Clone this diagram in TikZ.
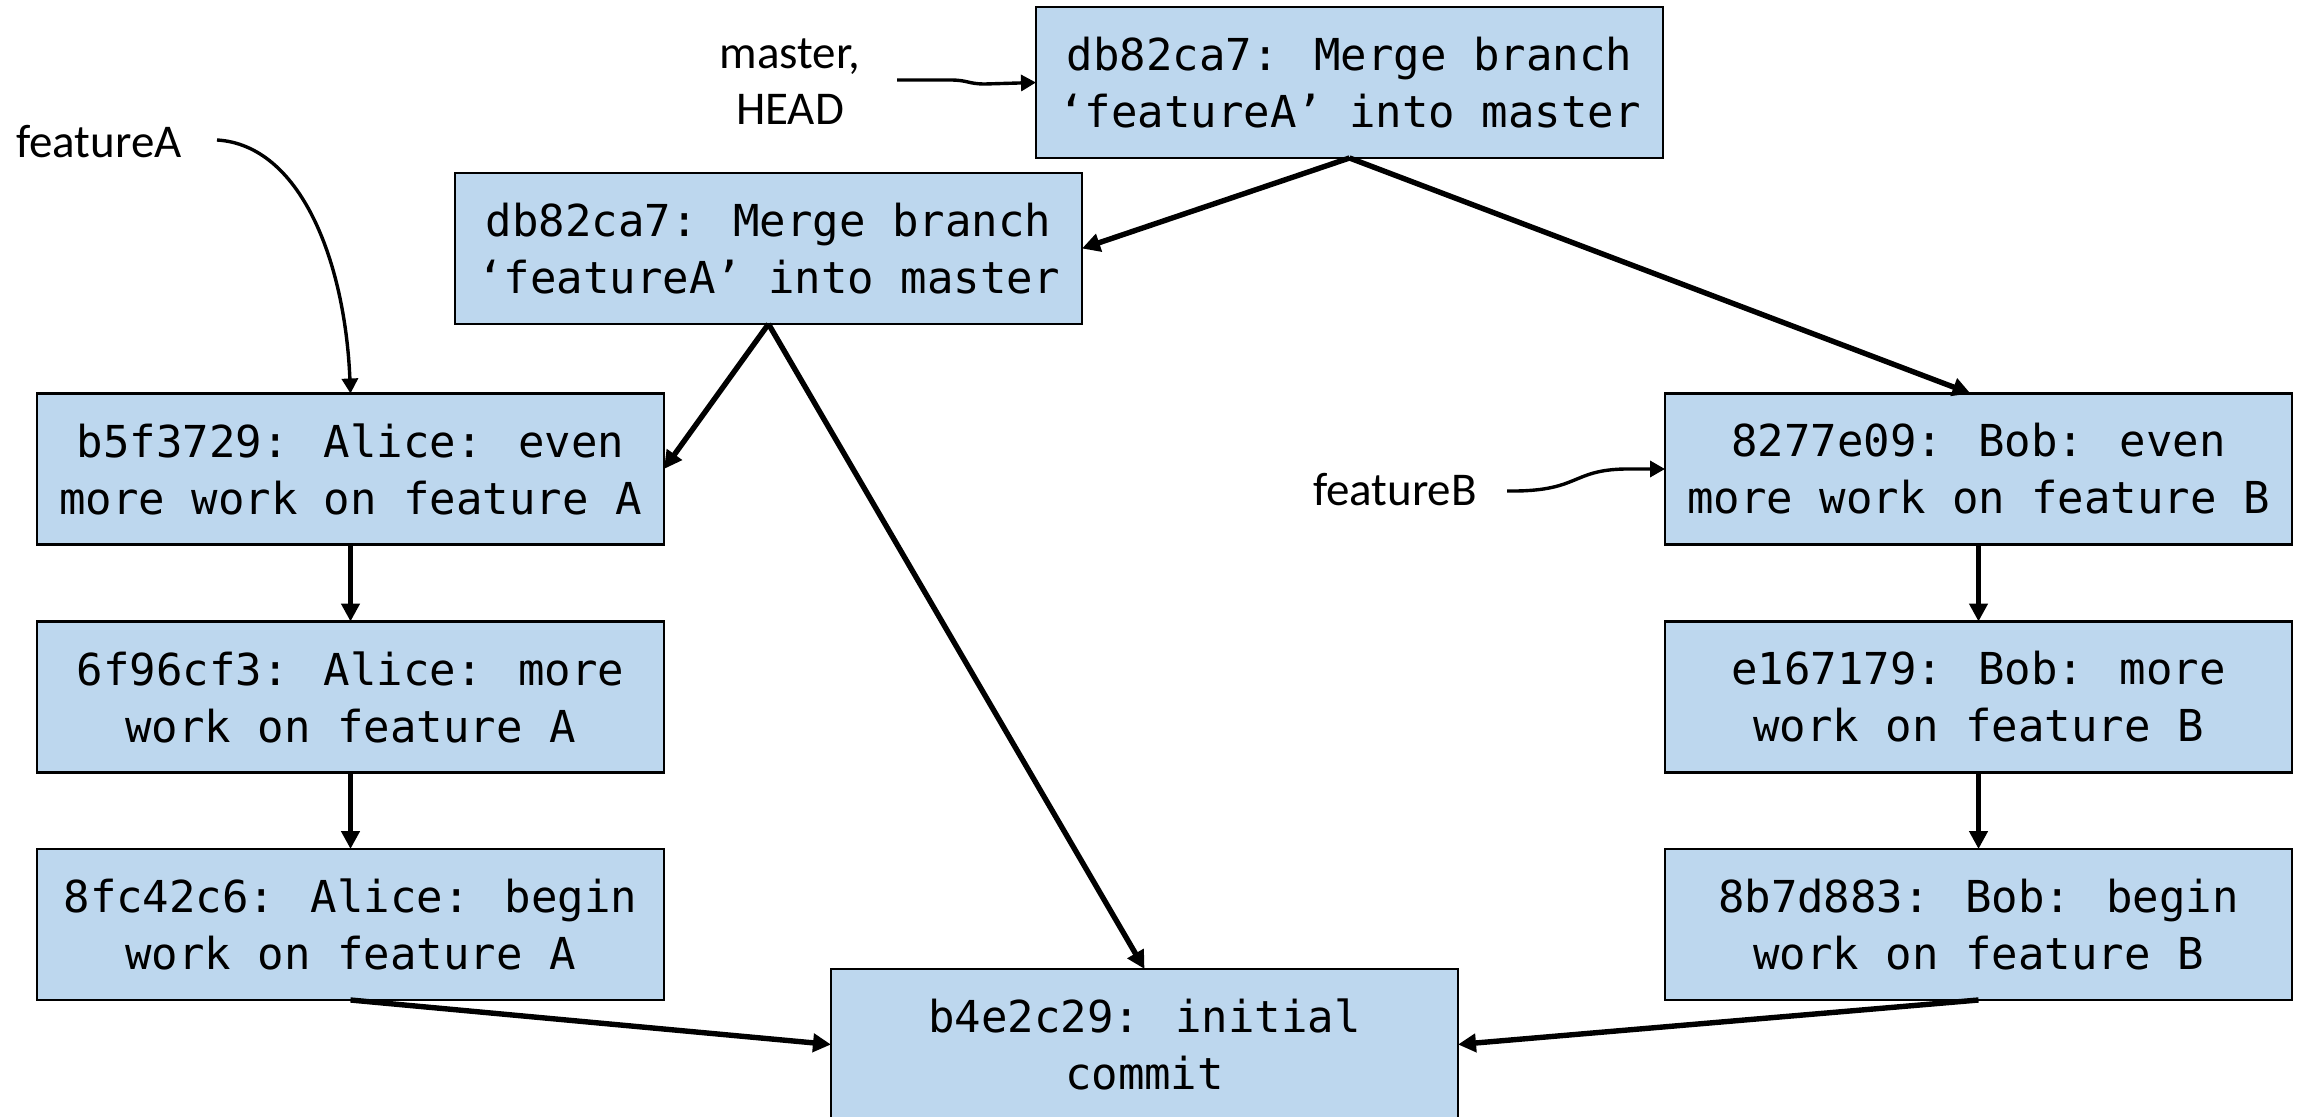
\documentclass[tikz,border=0pt]{standalone}
\usepackage{fontspec}
\setmainfont{Carlito}
\newfontfamily\codefont{DejaVu Sans Mono}
\usetikzlibrary{arrows.meta}
\definecolor{boxblue}{RGB}{189,215,238}
\begin{document}
\begin{tikzpicture}[x=0.5pt,y=-0.5pt,
  commit/.style={draw=black, line width=1.1pt, fill=boxblue, minimum width=313.5pt, minimum height=75.5pt, inner sep=0pt, outer sep=0pt, align=center, font=\codefont\fontsize{22}{28.5}\selectfont},
  lbl/.style={font=\fontsize{23.5}{28}\selectfont, align=center, inner sep=0pt},
  link/.style={line width=2.7pt, -{Triangle[length=9pt,width=9pt]}},
  ptr/.style={line width=1.7pt, -{Triangle[length=7.5pt,width=8pt]}}]
\useasboundingbox (0,0) rectangle (2302,1117);
\clip (0,0) rectangle (2302,1117);
\fill[white] (0,0) rectangle (2302,1117);

\node[commit] (M1) at (1349.5,82.5) {db82ca7: Merge branch\\‘featureA’ into master};
\node[commit] (M2) at (768.5,248.5) {db82ca7: Merge branch\\‘featureA’ into master};
\node[commit] (A3) at (350.5,469) {b5f3729: Alice: even\\more work on feature A};
\node[commit] (A2) at (350.5,697) {6f96cf3: Alice: more\\work on feature A};
\node[commit] (A1) at (350.5,924.5) {8fc42c6: Alice: begin\\work on feature A};
\node[commit] (B3) at (1978.5,469) {8277e09: Bob: even\\more work on feature B};
\node[commit] (B2) at (1978.5,697) {e167179: Bob: more\\work on feature B};
\node[commit] (B1) at (1978.5,924.5) {8b7d883: Bob: begin\\work on feature B};
\node[commit] (I) at (1144.5,1044.5) {b4e2c29: initial\\commit};

\node[lbl] (ms) at (790,82) {master,\\HEAD};
\node[lbl] (fa) at (99,142) {featureA};
\node[lbl] (fb) at (1395,490) {featureB};

\coordinate (msA) at (897,80);
\coordinate (faA) at (217,140);
\coordinate (fbA) at (1507,491);

\draw[link] (M1.south) -- (M2.east);
\draw[link] (M1.south) -- ([xshift=-4pt]B3.north);
\draw[link] (M2.south) -- (A3.east);
\draw[link] (M2.south) -- (I.north);
\draw[link] (A3.south) -- (A2.north);
\draw[link] (A2.south) -- (A1.north);
\draw[link] (B3.south) -- (B2.north);
\draw[link] (B2.south) -- (B1.north);
\draw[link] (A1.south) -- (I.west);
\draw[link] (B1.south) -- (I.east);

\draw[ptr] (msA) -- (950,80) .. controls (968,80) and (968,84) .. (985,84) -- (M1.west);
\draw[ptr] (faA) .. controls (300,145) and (345,260) .. (A3.north);
\draw[ptr] (fbA) .. controls (1580,492) and (1570,470) .. (1625,469) -- (B3.west);
\end{tikzpicture}
\end{document}
